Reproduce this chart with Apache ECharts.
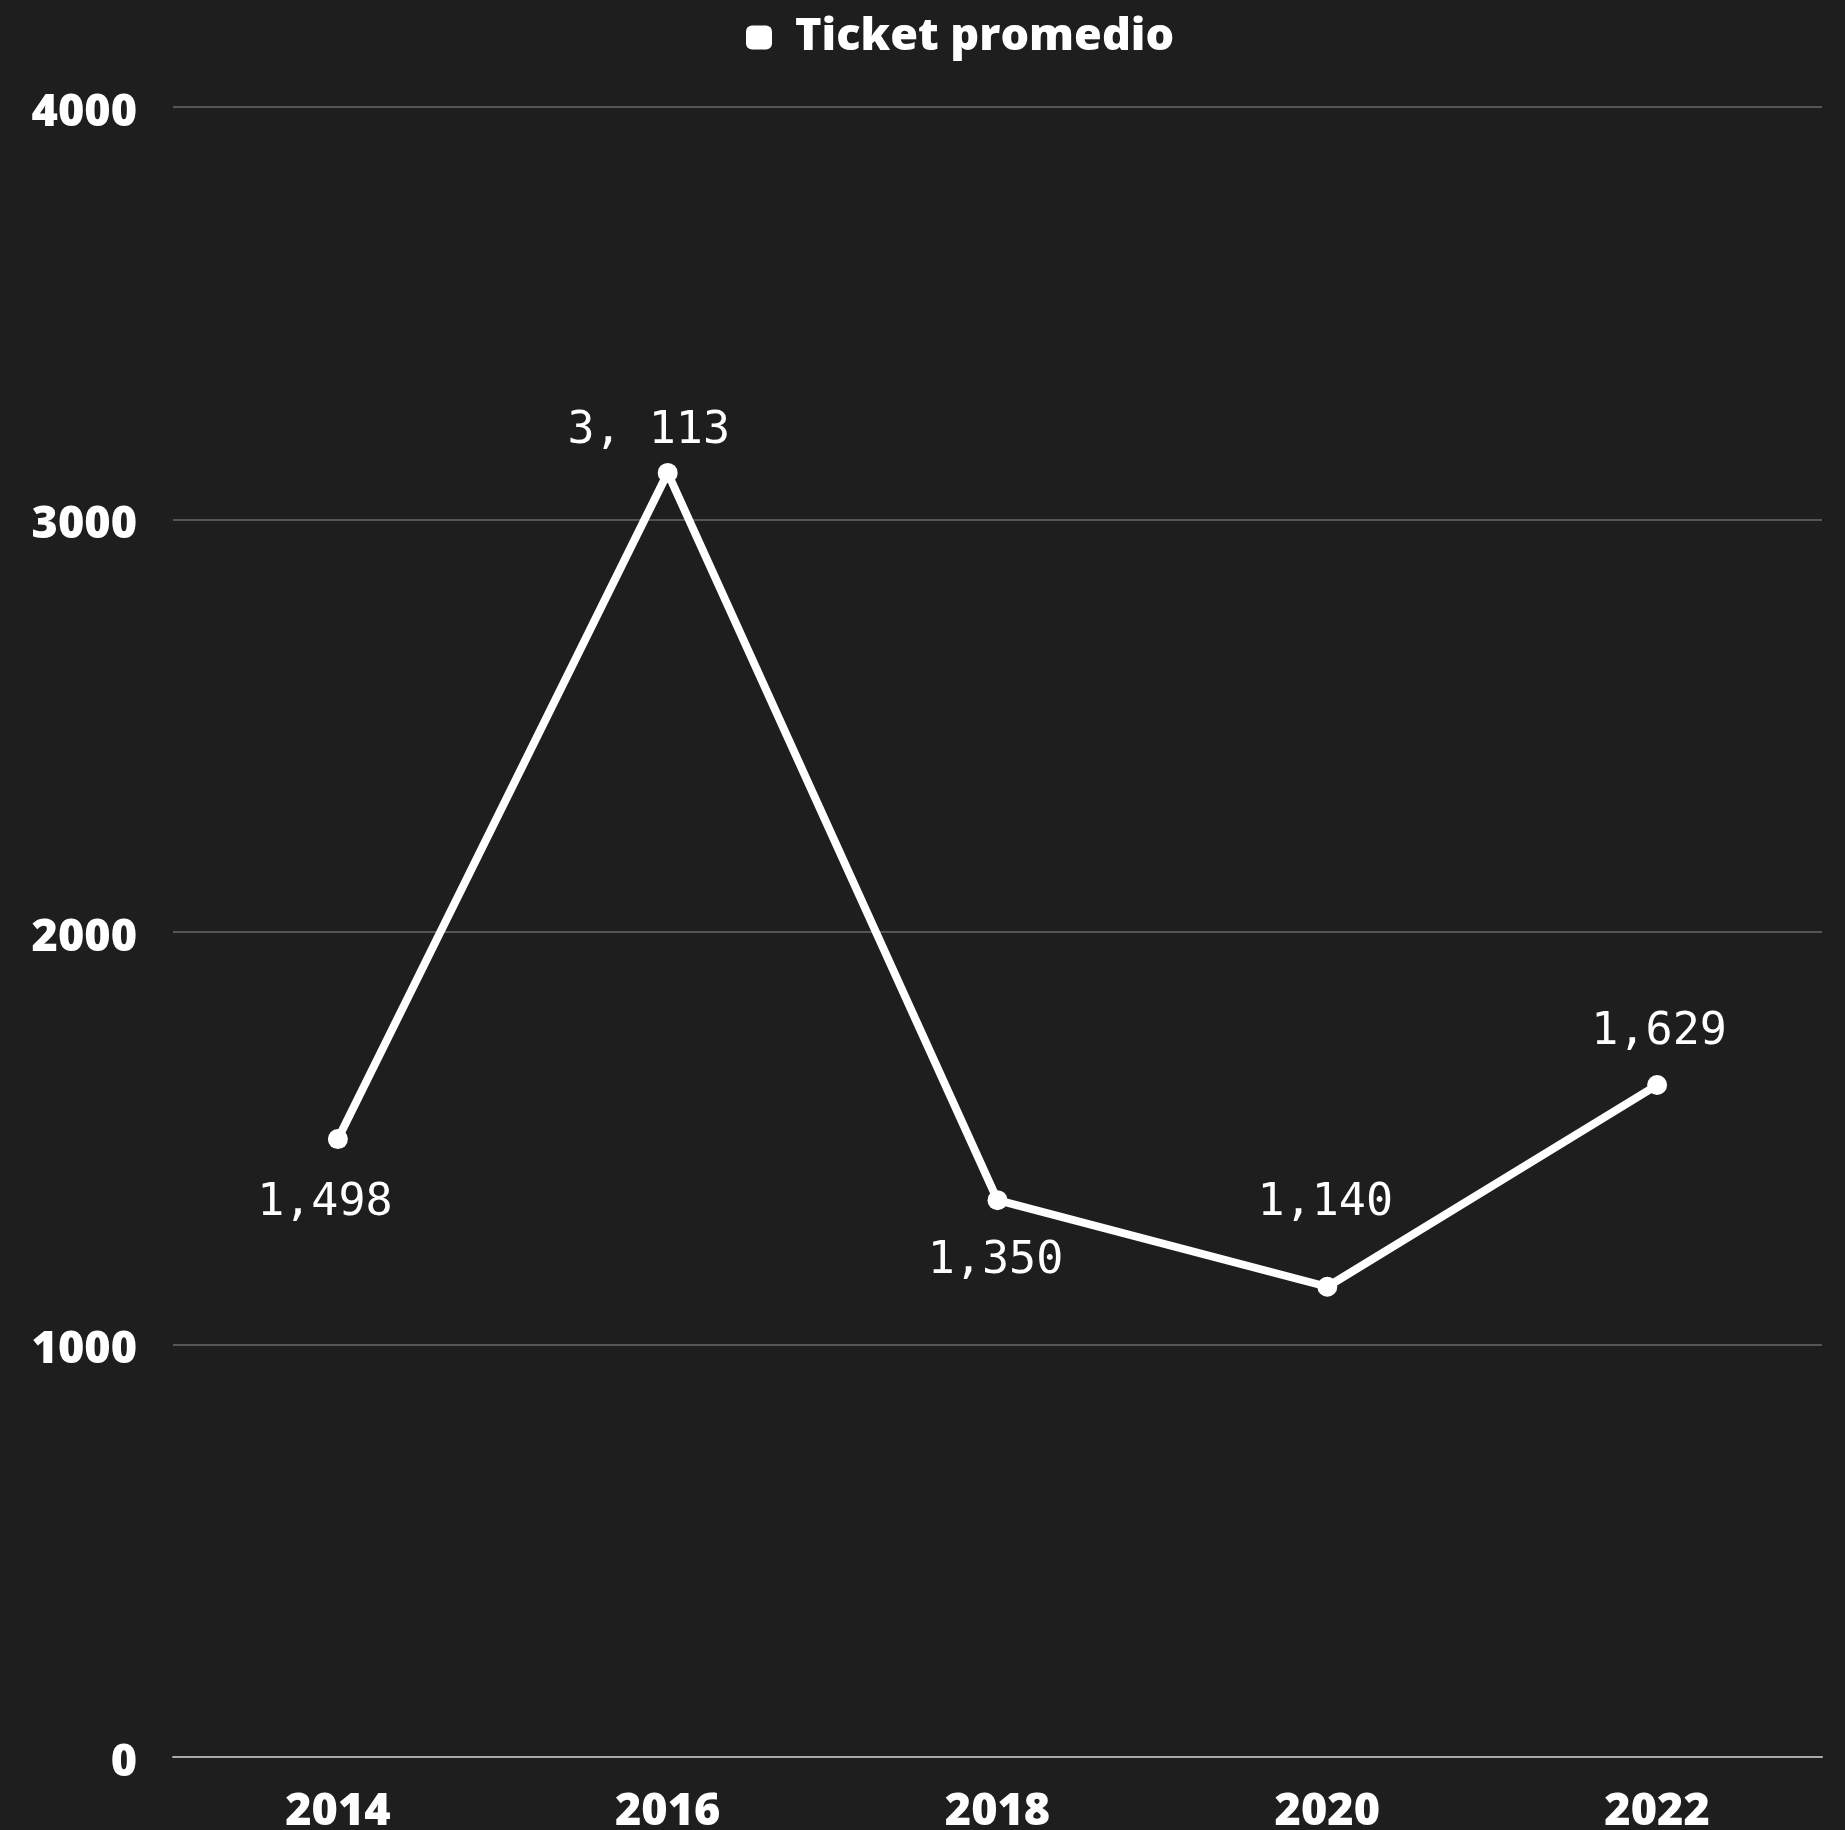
<!DOCTYPE html>
<html>
<head>
<meta charset="utf-8">
<script src="https://cdn.jsdelivr.net/npm/echarts@6/dist/echarts.min.js"></script>
<style>
  html, body { margin: 0; padding: 0; background: #1e1e1e; }
  #chart { width: 1845px; height: 1830px; }
</style>
</head>
<body>
<div id="chart"></div>
<script>
// datos
var years = ['2014', '2016', '2018', '2020', '2022'];
var ticket = [1498, 3113, 1350, 1140, 1629];
var ticketLabels = ['1,498', '3, 113', '1,350', '1,140', '1,629'];
var yTicks = [0, 1000, 2000, 3000, 4000];

// donde va cada etiqueta respecto al punto
var labelOffsets = [[-13, 64], [-19, -42], [-2, 61], [-2, -83], [2, -53]];

var chart = echarts.init(document.getElementById('chart'));

var points = ticket.map(function (v, i) {
    return {
        value: v,
        label: { offset: labelOffsets[i], formatter: ticketLabels[i] }
    };
});

chart.setOption({
    backgroundColor: '#1e1e1e',
    animation: false,
    legend: {
        top: 10,
        left: 741,
        itemWidth: 26,
        itemHeight: 24,
        itemGap: 20,
        icon: 'roundRect',
        textStyle: {
            color: '#ffffff',
            fontFamily: 'Open Sans',
            fontWeight: 800,
            fontSize: 45,
            padding: [0, 0, 0, 18]
        },
        data: ['Ticket promedio']
    },
    grid: { left: 173, right: 23, top: 107, bottom: 73, outerBoundsMode: 'none' },
    xAxis: {
        type: 'category',
        data: years,
        axisLine: { lineStyle: { color: '#aaaaaa', width: 2 } },
        axisTick: { show: false },
        axisLabel: {
            color: '#ffffff',
            fontFamily: 'Open Sans',
            fontWeight: 800,
            fontSize: 45,
            margin: 33
        }
    },
    yAxis: {
        type: 'value',
        min: yTicks[0],
        max: yTicks[yTicks.length - 1],
        interval: 1000,
        axisLine: { show: false },
        axisTick: { show: false },
        splitLine: { lineStyle: { color: '#555555', width: 2 } },
        axisLabel: {
            color: '#ffffff',
            fontFamily: 'Open Sans',
            fontWeight: 800,
            fontSize: 45,
            margin: 36,
            verticalAlign: 'top',
            lineHeight: 12,
            formatter: function (v) { return String(v); }
        }
    },
    series: [{
        name: 'Ticket promedio',
        type: 'line',
        data: points,
        symbol: 'circle',
        symbolSize: 20,
        itemStyle: { color: '#ffffff' },
        lineStyle: { color: '#ffffff', width: 8 },
        label: {
            show: true,
            position: 'inside',
            color: '#ffffff',
            fontFamily: 'DejaVu Sans Mono',
            fontSize: 45
        }
    }]
});
</script>
</body>
</html>
